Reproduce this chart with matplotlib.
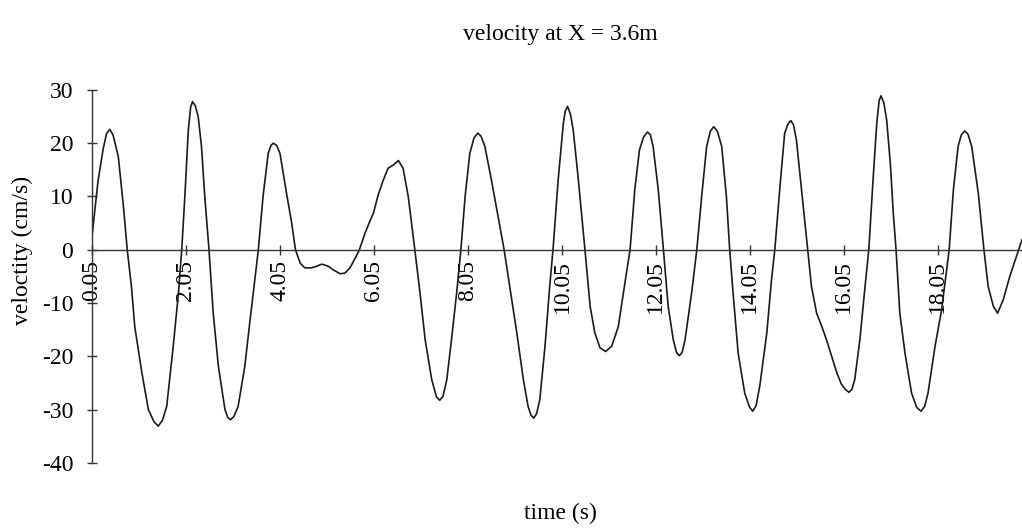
import matplotlib.pyplot as plt

plt.rcParams['font.family'] = ['Liberation Serif', 'DejaVu Serif']
plt.rcParams['axes.unicode_minus'] = False

# values (time in s, velocity in cm/s), one row per half wave
time_s = [
    0.05, 0.18, 0.29, 0.36, 0.43, 0.50, 0.61, 0.72, 0.80, 0.89, 0.96, 1.11, 1.25, 1.37, 1.46, 1.55, 1.64, 1.78, 1.89, 1.96,
    2.03, 2.10, 2.15, 2.19, 2.25, 2.31, 2.38, 2.45, 2.54, 2.63, 2.74, 2.88, 2.94, 3.00, 3.07, 3.16, 3.30, 3.41, 3.59,
    3.69, 3.80, 3.86, 3.91, 3.98, 4.05, 4.19, 4.30, 4.38, 4.48, 4.58, 4.72, 4.83, 4.94, 5.08, 5.18, 5.33, 5.43, 5.54, 5.65, 5.74,
    5.86, 5.96, 6.04, 6.14, 6.25, 6.35, 6.46, 6.57, 6.67, 6.78, 6.92,
    7.03, 7.14, 7.28, 7.38, 7.45, 7.52, 7.60, 7.70, 7.81, 7.90,
    7.99, 8.09, 8.18, 8.26, 8.33, 8.41, 8.55, 8.69, 8.82,
    8.94, 9.09, 9.23, 9.33, 9.39, 9.45, 9.51, 9.58, 9.69, 9.79, 9.86,
    9.97, 10.08, 10.12, 10.17, 10.23, 10.29, 10.40, 10.54,
    10.65, 10.75, 10.86, 10.98, 11.11, 11.25, 11.39, 11.50,
    11.60, 11.70, 11.79, 11.87, 11.93, 11.99, 12.10, 12.21,
    12.31, 12.42, 12.49, 12.55, 12.61, 12.67, 12.81, 12.92,
    13.03, 13.13, 13.21, 13.28, 13.36, 13.45, 13.55, 13.62,
    13.70, 13.80, 13.94, 14.04, 14.11, 14.18, 14.26, 14.41, 14.51, 14.58,
    14.69, 14.79, 14.86, 14.92, 14.98, 15.04, 15.15, 15.28,
    15.36, 15.47, 15.58, 15.68, 15.79, 15.90, 16.00, 16.09, 16.16, 16.22, 16.28, 16.39, 16.50, 16.58,
    16.67, 16.75, 16.80, 16.84, 16.90, 16.96, 17.04, 17.10, 17.16,
    17.24, 17.35, 17.49, 17.60, 17.69, 17.77, 17.84, 17.99, 18.13, 18.29,
    18.38, 18.48, 18.55, 18.62, 18.69, 18.77, 18.91, 19.03,
    19.12, 19.23, 19.32, 19.44, 19.58, 19.72, 19.84,
]
velocity = [
    2.5, 13.0, 19.0, 21.8, 22.6, 21.5, 17.5, 8.1, 0.0, -6.9, -14.4, -23.0, -30.0, -32.3, -33.1, -32.0, -29.4, -18.0, -8.1, 0.0,
    10.6, 22.5, 26.8, 27.8, 27.0, 25.0, 19.4, 10.0, 0.0, -11.9, -21.9, -30.0, -31.5, -31.9, -31.3, -29.4, -22.0, -13.5, 0.0,
    10.0, 18.1, 19.6, 20.0, 19.6, 18.1, 10.6, 5.0, 0.0, -2.5, -3.4, -3.4, -3.1, -2.7, -3.1, -3.75, -4.5, -4.4, -3.4, -1.6, 0.0,
    3.1, 5.3, 6.9, 10.3, 13.1, 15.3, 15.9, 16.75, 15.3, 10.0, 0.0,
    -8.1, -16.9, -24.4, -27.6, -28.25, -27.5, -24.4, -16.9, -8.1, 0.0,
    10.0, 18.1, 21.0, 21.9, 21.3, 19.4, 13.1, 6.25, 0.0,
    -6.9, -15.6, -24.4, -29.4, -31.0, -31.6, -30.8, -28.1, -18.1, -6.9, 0.0,
    13.1, 23.75, 26.0, 26.9, 25.5, 22.5, 13.1, 0.0,
    -10.6, -15.6, -18.4, -19.1, -18.1, -14.4, -6.25, 0.0,
    11.25, 18.75, 21.2, 22.1, 21.6, 19.4, 11.25, 0.0,
    -10.6, -16.9, -19.3, -19.9, -19.2, -16.9, -8.1, 0.0,
    10.6, 19.4, 22.3, 23.1, 22.2, 19.4, 10.0, 0.0,
    -9.0, -19.4, -26.9, -29.5, -30.3, -29.3, -25.6, -15.6, -5.6, 0.0,
    11.9, 21.9, 23.6, 24.25, 23.4, 20.6, 11.25, 0.0,
    -6.9, -11.9, -14.4, -16.9, -20.0, -23.1, -25.3, -26.3, -26.75, -26.2, -24.4, -16.9, -6.9, 0.0,
    13.1, 23.75, 28.0, 28.9, 27.6, 24.4, 16.0, 7.0, 0.0,
    -11.9, -19.4, -26.9, -29.6, -30.3, -29.4, -26.9, -18.1, -11.25, 0.0,
    11.25, 19.4, 21.6, 22.3, 21.7, 19.4, 10.6, 0.0,
    -6.9, -10.6, -11.9, -9.4, -5.0, -1.25, 1.9,
]

tick_pos = [0.05, 2.05, 4.05, 6.05, 8.05, 10.05, 12.05, 14.05, 16.05, 18.05]
tick_labels = ['0.05', '2.05', '4.05', '6.05', '8.05', '10.05', '12.05', '14.05', '16.05', '18.05']
y_ticks = [-40, -30, -20, -10, 0, 10, 20, 30]

fig = plt.figure(figsize=(10.22, 5.29), dpi=100)
ax = fig.add_axes([0.09, 0.125, 0.91, 0.705])

ax.plot(time_s, velocity, color='#1a1a1a', linewidth=1.2)

ax.set_xlim(0.05, 19.84)
ax.set_ylim(-40, 30)

# x axis crosses at zero like the spreadsheet chart
ax.spines['bottom'].set_position(('data', 0))
ax.spines['top'].set_visible(False)
ax.spines['right'].set_visible(False)
for s in ['bottom', 'left']:
    ax.spines[s].set_color('#333333')
    ax.spines[s].set_linewidth(1.0)

ax.set_xticks(tick_pos)
ax.set_xticklabels(tick_labels, rotation=90, va='top', ha='center')
ax.set_yticks(y_ticks)
ax.tick_params(axis='x', direction='inout', length=7, width=1, color='#333333',
               labelsize=17, pad=4)
ax.tick_params(axis='y', direction='inout', length=7, width=1, color='#333333',
               labelsize=17, pad=10)

fig.text(0.548, 0.935, 'velocity at X = 3.6m', ha='center', va='center', fontsize=17)
fig.text(0.548, 0.03, 'time (s)', ha='center', va='center', fontsize=17)
fig.text(0.022, 0.527, 'veloctity (cm/s)', ha='center', va='center', rotation=90,
         fontsize=17)

fig.savefig('out.png', dpi=100)
